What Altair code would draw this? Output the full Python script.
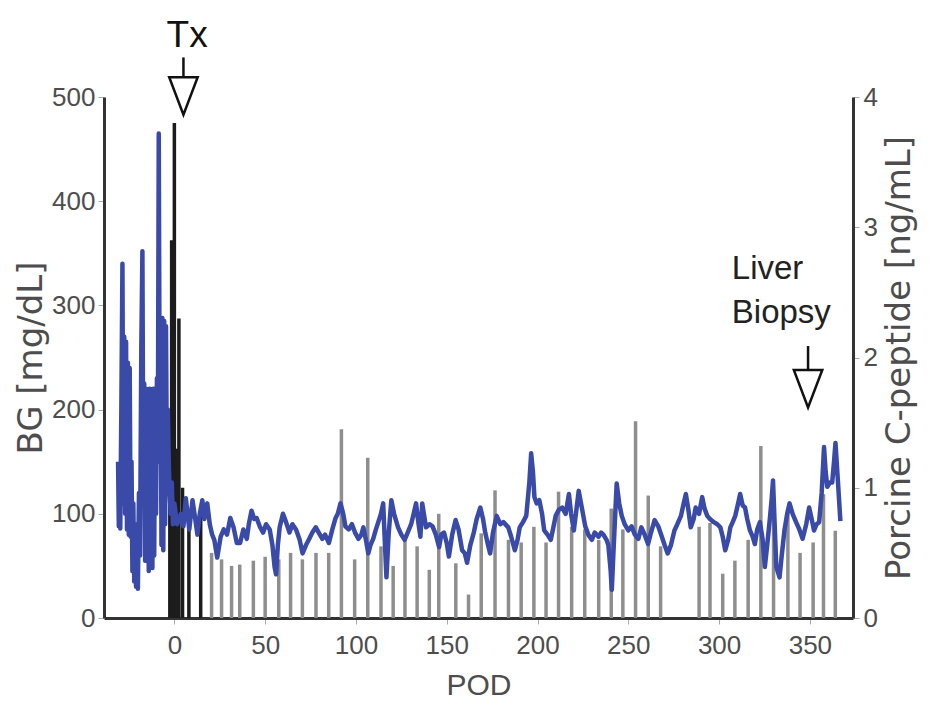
import altair as alt
import pandas as pd

# Blood glucose (mg/dL) by post-operative day
bg_pod = [-31, -30.6, -30.2, -29.8, -29.2, -28.6, -28.1, -27.6, -27.1, -26.6, -26.1, -25.6, -25.1, -24.6,
          -24.1, -23.6, -23.1, -22.6, -22.1, -21.6, -21.1, -20.6, -20.1, -19.5, -18.9, -18.2, -17.6,
          -17.1, -16.6, -16.1, -15.6, -15.1, -14.6, -14.1, -13.6, -13.1, -12.6, -12.1, -11.6, -11.1,
          -10.6, -10.1, -9.6, -9.1, -8.6, -8.1, -7.6, -7.1, -6.6, -6.1, -5.6, -5.1, -4.6, -4.1, -3.6,
          -3.1, -2.6, -2, -1.4, -0.8, 0, 1.5,
          3.6, 5, 6.3, 8.2, 10, 11.5, 12.7, 14, 15.4, 16.5, 18.1, 19.5, 20.8, 22, 23.6, 25.5, 27.2, 29,
          30.8, 32.6, 34.4, 36.2, 38, 39.9, 41, 42.5, 44, 45.3, 47, 48.9, 50.5, 52.5, 54, 55.2, 56, 57,
          58, 59.8, 61.5, 63.4, 65, 67, 69, 70.6, 72.5, 74.3, 76, 77.9, 79.5, 81.5, 83, 85.1, 87, 88.8,
          90, 91.5, 93, 94.2, 96, 97.8, 99.5, 101.4, 103, 104.1, 105.5, 106.8, 108, 109.5, 111, 112.3,
          113.8, 115, 116, 116.8, 118, 119.5, 121, 123.2, 125, 126.8, 128.5, 130.4, 131.8, 133.1, 134.5,
          135.5, 136.5, 138.6, 140.5, 142.2, 144, 145.8, 147, 148.5, 150, 151.2, 153, 154.9, 156.5, 158.5,
          160, 161.2, 163, 164.9, 166.5, 168.5, 170, 171.2, 172.5, 173.9, 175.5, 177.5, 179.5, 181.2,
          183.9, 185.5, 187.5, 189, 190.2, 192, 193.8, 195.5, 196.5, 197.5, 198.3, 199.5, 201, 202.5,
          203.7, 205.5, 207.3, 208.5, 210, 211.8, 213.6, 215.5, 217.3, 218.5, 220, 221.5, 222.7, 224.5,
          226.3, 228, 229.9, 231.5, 233.6, 235, 236.3, 238, 239, 240.3, 240.9, 242, 243.6, 245, 246.4,
          248, 250, 251.8, 253.6, 255.5, 257.2, 259, 260.9, 262.5, 264.5, 266.5, 268.1, 270, 271.7,
          273.5, 275.4, 277, 279, 280.5, 281.7, 283, 284.4, 286, 287.1, 289, 290.7, 292, 293.5, 295,
          297.1, 299, 300.7, 302, 303.4, 305, 306.2, 307.5, 308.9, 310.5, 311.6, 313, 314.3, 315.5, 317,
          318.5, 319.7, 321, 322.5, 324, 325.2, 326.5, 327.9, 329, 329.7, 330.5, 331.5, 333.3, 334.5,
          336, 337.5, 338.8, 340.5, 342.4, 344.2, 346, 348, 349.6, 351, 352.3, 353.7, 355.1, 356.5,
          357.8, 358.7, 359.6, 361, 362.3, 363.3, 364.1, 365.5, 366.8]
bg_val = [150, 88, 140, 86, 200, 340, 110, 270, 100, 265, 85, 245, 80, 240,
          78, 150, 45, 110, 35, 90, 30, 70, 28, 120, 60, 260, 352,
          120, 225, 55, 220, 60, 218, 45, 220, 50, 215, 48, 220, 60,
          220, 100, 230, 150, 465, 200, 280, 70, 288, 65, 285, 90, 280, 130, 200,
          150, 120, 100, 130, 90, 110, 90,
          100, 88, 115, 85, 113, 95, 80, 100, 113, 95, 110, 90, 80, 75, 58, 78, 85, 80,
          96, 87, 72, 72, 85, 76, 90, 103, 95, 96, 88, 82, 90, 85, 70, 49, 42, 70,
          87, 100, 92, 82, 90, 85, 75, 62, 70, 76, 82, 87, 82, 76, 80, 72, 85, 96,
          100, 110, 100, 88, 85, 90, 82, 76, 80, 87, 75, 62, 70, 76, 85, 92,
          100, 110, 70, 39, 80, 113, 100, 87, 80, 75, 82, 90, 100, 110, 90,
          78, 110, 87, 90, 88, 80, 68, 80, 82, 72, 59, 80, 94, 85, 65,
          62, 53, 70, 82, 95, 106, 95, 82, 72, 62, 82, 98, 90, 92,
          87, 78, 65, 75, 87, 92, 98, 130, 158, 140, 116, 110, 113, 100,
          84, 80, 75, 85, 98, 104, 106, 100, 119, 100, 84, 105, 122, 105,
          88, 80, 75, 82, 78, 82, 80, 75, 70, 45, 27, 70, 129, 110, 98,
          90, 84, 88, 80, 76, 87, 80, 71, 82, 94, 88, 80, 70, 62,
          70, 84, 90, 98, 110, 119, 105, 87, 95, 106, 100, 116, 105, 98, 95,
          92, 90, 87, 78, 65, 75, 87, 92, 98, 110, 119, 108, 106, 95, 84,
          78, 71, 85, 92, 75, 49, 70, 94, 115, 132, 95, 49, 39, 60,
          84, 100, 110, 100, 92, 85, 76, 90, 106, 95, 84, 90, 92, 120,
          164, 140, 126, 130, 130, 150, 168, 130, 93]

# Porcine C-peptide (ng/mL) by post-operative day
cp_pod = [-2.5, -1.5, 0, 1, 2.5, 4.5, 8, 14.5,
          20.5, 26, 31.5, 36, 43.5, 50, 57.5, 64, 70.5, 78, 85, 92, 99.3, 106.5, 113.8, 120.5, 127,
          133.7, 140.4, 145.6, 155, 162, 169, 176.6, 184, 191, 198, 204.7, 211.6, 218.8, 226, 233.7,
          240.6, 247, 254, 261, 267.8, 289, 295, 302, 308.7, 316, 323, 330, 337.9, 344.6, 351.8,
          357.5, 364]
cp_val = [1.55, 2.9, 3.8, 1.3, 2.3, 1.0, 0.8, 0.85,
          0.5, 0.45, 0.4, 0.41, 0.44, 0.47, 0.45, 0.5, 0.45, 0.5, 0.5, 1.45, 0.45, 1.23, 0.55, 0.4, 0.6,
          0.55, 0.37, 0.8, 0.42, 0.18, 0.65, 0.98, 0.6, 0.58, 0.7, 0.58, 0.97, 0.7, 0.68, 0.6,
          0.84, 0.68, 1.51, 0.94, 0.55, 0.7, 0.73, 0.34, 0.44, 0.6, 1.32, 0.9, 0.83, 0.5, 0.58,
          0.95, 0.67]

x_ticks = [0, 50, 100, 150, 200, 250, 300, 350]
bg_ticks = [0, 100, 200, 300, 400, 500]
cp_ticks = [0, 1, 2, 3, 4]

bg_df = pd.DataFrame({"pod": bg_pod, "bg": bg_val})
cp_df = pd.DataFrame({"pod": cp_pod, "cp": cp_val})

FONT = "Liberation Sans"
WIDE = "DejaVu Sans"
LBL = "#4d4d4d"
xscale = alt.Scale(domain=[-36, 371], nice=False, zero=False)
bg_scale = alt.Scale(domain=[0, 500], nice=False)
cp_scale = alt.Scale(domain=[0, 4], nice=False)

x_axis = alt.Axis(values=x_ticks, title="POD", grid=False, labelFontSize=26, titleFontSize=30,
                  labelColor=LBL, titleColor=LBL, domainColor="#333", domainWidth=3,
                  tickColor="#aaa", tickSize=6, labelPadding=8, titlePadding=12, labelFont=FONT,
                  titleFont=FONT, titleFontWeight="normal")

bg_axis = alt.Axis(values=bg_ticks, title="BG [mg/dL]", grid=False, labelFontSize=26, titleFontSize=34,
                   labelColor=LBL, titleColor=LBL, domainColor="#333", domainWidth=3,
                   tickColor="#aaa", tickSize=6, labelPadding=3, titlePadding=3, labelFont=FONT,
                   titleFont=WIDE, titleFontWeight="normal")

cp_axis = alt.Axis(values=cp_ticks, title="Porcine C-peptide [ng/mL]", orient="right", grid=False,
                   labelFontSize=26, titleFontSize=34, labelColor=LBL, titleColor=LBL,
                   domainColor="#333", domainWidth=3, tickColor="#aaa", tickSize=6, labelPadding=4,
                   titlePadding=5, titleAngle=270, titleBaseline="top", labelFont=FONT,
                   titleFont=WIDE, titleFontWeight="normal")

# C-peptide bars (right axis)
gray_bars = alt.Chart(cp_df).transform_filter("datum.pod > 15").mark_bar(size=3.5, color="#8e8e8e").encode(
    x=alt.X("pod:Q", scale=xscale, axis=x_axis),
    y=alt.Y("cp:Q", scale=cp_scale, axis=cp_axis),
)
dark_bars = alt.Chart(cp_df).transform_filter("datum.pod <= 15").mark_bar(size=3.5, color="#1c1c1c").encode(
    x=alt.X("pod:Q", scale=xscale, axis=x_axis),
    y=alt.Y("cp:Q", scale=cp_scale, axis=cp_axis),
)
bars = alt.layer(gray_bars, dark_bars)

# Blood glucose line (left axis)
line = alt.Chart(bg_df).mark_line(color="#3a4aa8", strokeWidth=4.5, strokeJoin="round").encode(
    x=alt.X("pod:Q", scale=xscale, axis=x_axis),
    y=alt.Y("bg:Q", scale=bg_scale, axis=bg_axis),
)

# Annotations (positioned in data units of POD / BG)
tx_df = pd.DataFrame({"pod": [7], "bg": [548], "label": ["Tx"]})
lb_df = pd.DataFrame({"pod": [307, 307], "bg": [325, 283], "label": ["Liver", "Biopsy"]})
tx_text = alt.Chart(tx_df).mark_text(font=FONT, fontSize=37, color="#111", align="center",
                                     baseline="alphabetic").encode(
    x=alt.X("pod:Q", scale=xscale, axis=x_axis), y=alt.Y("bg:Q", scale=bg_scale, axis=bg_axis),
    text="label:N")
lb_text = alt.Chart(lb_df).mark_text(font=FONT, fontSize=33, color="#222", align="left",
                                     baseline="alphabetic").encode(
    x=alt.X("pod:Q", scale=xscale, axis=x_axis), y=alt.Y("bg:Q", scale=bg_scale, axis=bg_axis),
    text="label:N")

stems = pd.DataFrame({"pod": [5, 349], "bg": [538, 261], "bg_end": [518, 238]})
stem = alt.Chart(stems).mark_rule(color="#111", strokeWidth=2.5).encode(
    x=alt.X("pod:Q", scale=xscale, axis=x_axis), y=alt.Y("bg:Q", scale=bg_scale, axis=bg_axis),
    y2="bg_end:Q")

heads = pd.DataFrame({"pod": [5, 349], "bg": [501, 220]})
head = alt.Chart(heads).mark_point(shape="M-0.76,-1L0.76,-1L0,1Z", size=1400, filled=True, fill="white",
                                   stroke="#111", strokeWidth=2.5, opacity=1).encode(
    x=alt.X("pod:Q", scale=xscale, axis=x_axis), y=alt.Y("bg:Q", scale=bg_scale, axis=bg_axis))

front = alt.layer(line, tx_text, lb_text, stem, head)
chart = alt.layer(bars, front).resolve_scale(y="independent").properties(
    width=749, height=521,
    autosize=alt.AutoSizeParams(type="none"),
    padding={"left": 96, "top": 89, "right": 70, "bottom": 95},
).configure_view(stroke=None)

chart.save("out.html", embed_options={"renderer": "svg", "actions": False})
